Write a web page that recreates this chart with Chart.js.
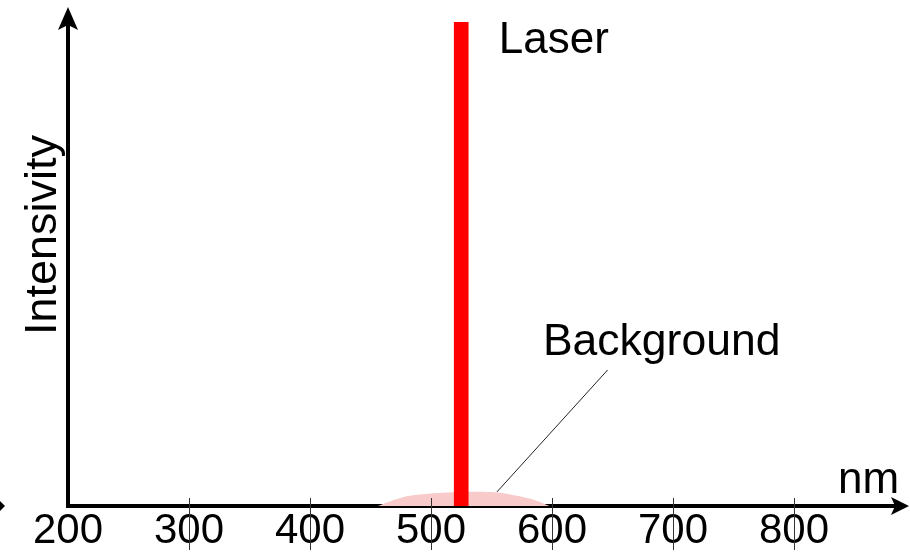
<!DOCTYPE html>
<html>
<head>
<meta charset="utf-8">
<script src="https://cdn.jsdelivr.net/npm/chart.js@4.4.1/dist/chart.umd.min.js"></script>
<style>
  html, body { margin: 0; padding: 0; background: #fff; }
  #wrap { width: 910px; height: 556px; }
</style>
</head>
<body>
<div id="wrap"><canvas id="spectrum"></canvas></div>
<script>
// Wavelength axis (nm)
const xMin = 200;
const xMax = 886;
const wavelengthTicks = [200, 300, 400, 500, 600, 700, 800];

// Laser line: a single narrow peak
const laserX = [525];
const laserY = [100];

// Broad, weak background emission under the laser line
const backgroundX = [456, 474, 488, 507, 528, 554, 571, 586, 598];
const backgroundY = [0, 1.6, 2.3, 2.7, 2.9, 2.8, 2.1, 1.2, 0];

// Annotation texts and their anchor points (data units)
const labelTexts = ['Laser', 'Background', 'nm'];
const labelX = [556, 592.5, 836.5];
const labelY = [93.6, 31.2, 2.7];
const labelSizes = [44, 44.5, 44];

// Leader line from the background hump to its label
const leaderX = [554.5, 646];
const leaderY = [2.9, 28.1];

const yTitle = 'Intensivity';
const FONT = '"Liberation Sans", Arial, Helvetica, sans-serif';

const overlay = {
  id: 'spectrumOverlay',
  afterDraw(chart) {
    const { ctx, chartArea: ca, scales: { x, y } } = chart;
    ctx.save();

    // tick marks crossing the wavelength axis
    ctx.strokeStyle = '#333';
    ctx.lineWidth = 1;
    wavelengthTicks.forEach(v => {
      if (v === xMin) return;
      const px = Math.round(x.getPixelForValue(v)) + 0.5;
      ctx.beginPath();
      ctx.moveTo(px, ca.bottom - 8);
      ctx.lineTo(px, ca.bottom + 44);
      ctx.stroke();
    });

    // leader line for the background label
    ctx.strokeStyle = '#222';
    ctx.lineWidth = 1;
    ctx.beginPath();
    ctx.moveTo(x.getPixelForValue(leaderX[0]), y.getPixelForValue(leaderY[0]));
    ctx.lineTo(x.getPixelForValue(leaderX[1]), y.getPixelForValue(leaderY[1]));
    ctx.stroke();

    // arrowheads on both axes
    ctx.fillStyle = '#000';
    const l = ca.left, t = ca.top, b = ca.bottom, r = ca.right;
    ctx.beginPath();
    ctx.moveTo(l, t - 15);
    ctx.lineTo(l + 10, t + 8);
    ctx.lineTo(l, t + 3);
    ctx.lineTo(l - 10, t + 8);
    ctx.closePath();
    ctx.fill();

    ctx.beginPath();
    ctx.moveTo(r + 11, b);
    ctx.lineTo(r - 7, b + 9);
    ctx.lineTo(r - 3, b);
    ctx.lineTo(r - 7, b - 9);
    ctx.closePath();
    ctx.fill();

    // small arrow tip at the far left edge
    ctx.beginPath();
    ctx.moveTo(0, b - 5);
    ctx.lineTo(5, b);
    ctx.lineTo(0, b + 5);
    ctx.closePath();
    ctx.fill();

    // annotation labels
    ctx.fillStyle = '#000';
    ctx.textAlign = 'left';
    ctx.textBaseline = 'alphabetic';
    labelTexts.forEach((txt, i) => {
      ctx.font = labelSizes[i] + 'px ' + FONT;
      ctx.fillText(txt, x.getPixelForValue(labelX[i]), y.getPixelForValue(labelY[i]));
    });

    // vertical axis title
    ctx.translate(l - 12, t + 213);
    ctx.rotate(-Math.PI / 2);
    ctx.font = '45px ' + FONT;
    ctx.textAlign = 'center';
    ctx.fillText(yTitle, 0, 0);

    ctx.restore();
  }
};

new Chart(document.getElementById('spectrum'), {
  type: 'bar',
  data: {
    datasets: [
      {
        type: 'bar',
        label: 'Laser',
        data: laserX.map((v, i) => ({ x: v, y: laserY[i] })),
        backgroundColor: '#ff0000',
        borderWidth: 0,
        barThickness: 14,
        order: 0
      },
      {
        type: 'line',
        label: 'Background',
        data: backgroundX.map((v, i) => ({ x: v, y: backgroundY[i] })),
        fill: 'origin',
        backgroundColor: '#f8caca',
        borderWidth: 0,
        pointRadius: 0,
        tension: 0.4,
        order: 1
      }
    ]
  },
  options: {
    responsive: true,
    maintainAspectRatio: false,
    animation: false,
    events: [],
    layout: { padding: { top: 22, right: 12, bottom: 0, left: 0 } },
    plugins: {
      legend: { display: false },
      tooltip: { enabled: false }
    },
    scales: {
      x: {
        type: 'linear',
        position: 'bottom',
        min: xMin,
        max: xMax,
        offset: false,
        z: 1,
        afterBuildTicks: s => { s.ticks = wavelengthTicks.map(v => ({ value: v })); },
        afterFit: s => { s.height = 50; },
        ticks: {
          color: '#000',
          padding: 0,
          maxRotation: 0,
          autoSkip: false,
          font: { family: FONT, size: 42 }
        },
        grid: { display: false, drawTicks: false, offset: false },
        border: { display: true, color: '#000', width: 4 }
      },
      y: {
        type: 'linear',
        min: 0,
        max: 100,
        z: 1,
        afterFit: s => { s.width = 68; },
        ticks: { display: false },
        grid: { display: false, drawTicks: false },
        border: { display: true, color: '#000', width: 4 }
      }
    }
  },
  plugins: [overlay]
});
</script>
</body>
</html>
